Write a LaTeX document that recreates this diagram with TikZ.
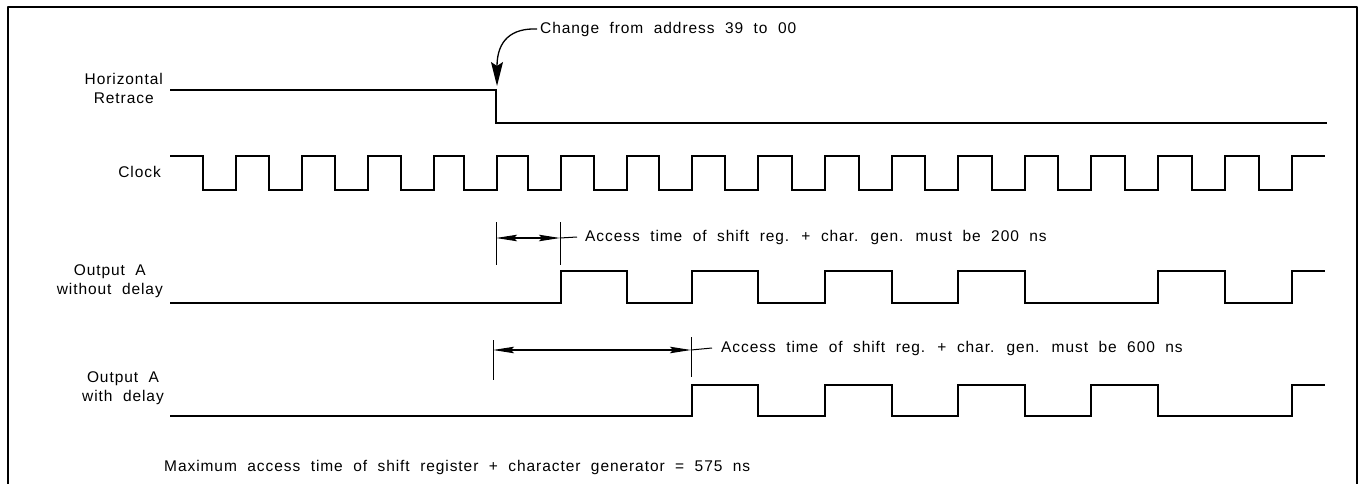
\documentclass[tikz,border=0pt]{standalone}
\usepackage{fontspec}
\setmainfont{Liberation Sans}[LetterSpace=6,WordSpace=2]
\usetikzlibrary{arrows.meta}
\tikzset{
  wave/.style={line width=2.6pt, line join=miter},
  lbl/.style={align=center, anchor=east, inner sep=0pt},
  note/.style={anchor=west, inner ysep=0pt},
  tick/.style={line width=1pt},
  dimline/.style={line width=1.1pt, {Stealth[length=21pt,width=6.5pt,inset=3pt]}-{Stealth[length=21pt,width=6.5pt,inset=3pt]}},
}
\begin{document}
\begin{tikzpicture}[x=1pt, y=-1pt, font=\fontsize{15.5}{19}\selectfont, line join=round]
	\useasboundingbox (0,0) rectangle (1361,484);
	\def\xa{170}\def\xb{1325}
	\draw[line width=1.2pt] (8,484) -- (8,7) -- (1357,7) -- (1357,484);
	\node[lbl] (lretrace) at (163,88) {Horizontal\\Retrace};
	\node[lbl] (lclock) at (161,172) {Clock};
	\node[lbl] (lnodelay) at (163,281) {Output A\\without delay};
	\node[lbl] (ldelay) at (164,388) {Output A\\with delay};
	\draw[wave] (\xa,90) -- (496,90) -- (496,123) -- (1327,123);
	\draw[wave] (\xa,156) foreach \e in {236,302,368,434,497,561,627,692,758,825,892,958,1025,1091,1158,1225,1292} { -- (\e-33,156) -- (\e-33,190) -- (\e,190) -- (\e,156) } -- (\xb,156);
	\draw[wave] (\xa,303) -- (561,303) |- (627,271) |- (692,303) |- (758,271) |- (825,303) |- (892,271) |- (958,303) |- (1025,271) |- (1158,303) |- (1225,271) |- (1292,303) |- (\xb,271);
	\draw[wave] (\xa,416) -- (692,416) |- (758,385) |- (825,416) |- (892,385) |- (958,416) |- (1025,385) |- (1091,416) |- (1158,385) |- (1292,416) |- (\xb,385);
	\node[note, inner xsep=3pt] (change) at (537,29) {Change from address 39 to 00};
	\coordinate (drop) at (497,86);
	\draw[line width=1.3pt, -{Stealth[length=24pt,width=12pt,inset=4pt]}] (change.west) .. controls (512,28) and (497,40) .. (drop);
	\draw[tick] (496,222) -- (496,265) (560,222) -- (560,265);
	\coordinate (d1l) at (496,238); \coordinate (d1r) at (560,238);
	\draw[dimline] (d1l) -- (d1r);
	\node[note, inner xsep=8pt] (acc1) at (577,237) {Access time of shift reg. + char. gen. must be 200 ns};
	\draw[tick] (d1r) -- (acc1.west);
	\draw[tick] (493,340) -- (493,380) (691,337) -- (691,377);
	\coordinate (d2l) at (493,350); \coordinate (d2r) at (691,350);
	\draw[dimline] (d2l) -- (d2r);
	\node[note, inner xsep=9pt] (acc2) at (712,348) {Access time of shift reg. + char. gen. must be 600 ns};
	\draw[tick] (d2r) -- (acc2.west);
	\node[note, inner xsep=0pt] (maxtext) at (164,467) {Maximum access time of shift register + character generator = 575 ns};
\end{tikzpicture}
\end{document}
